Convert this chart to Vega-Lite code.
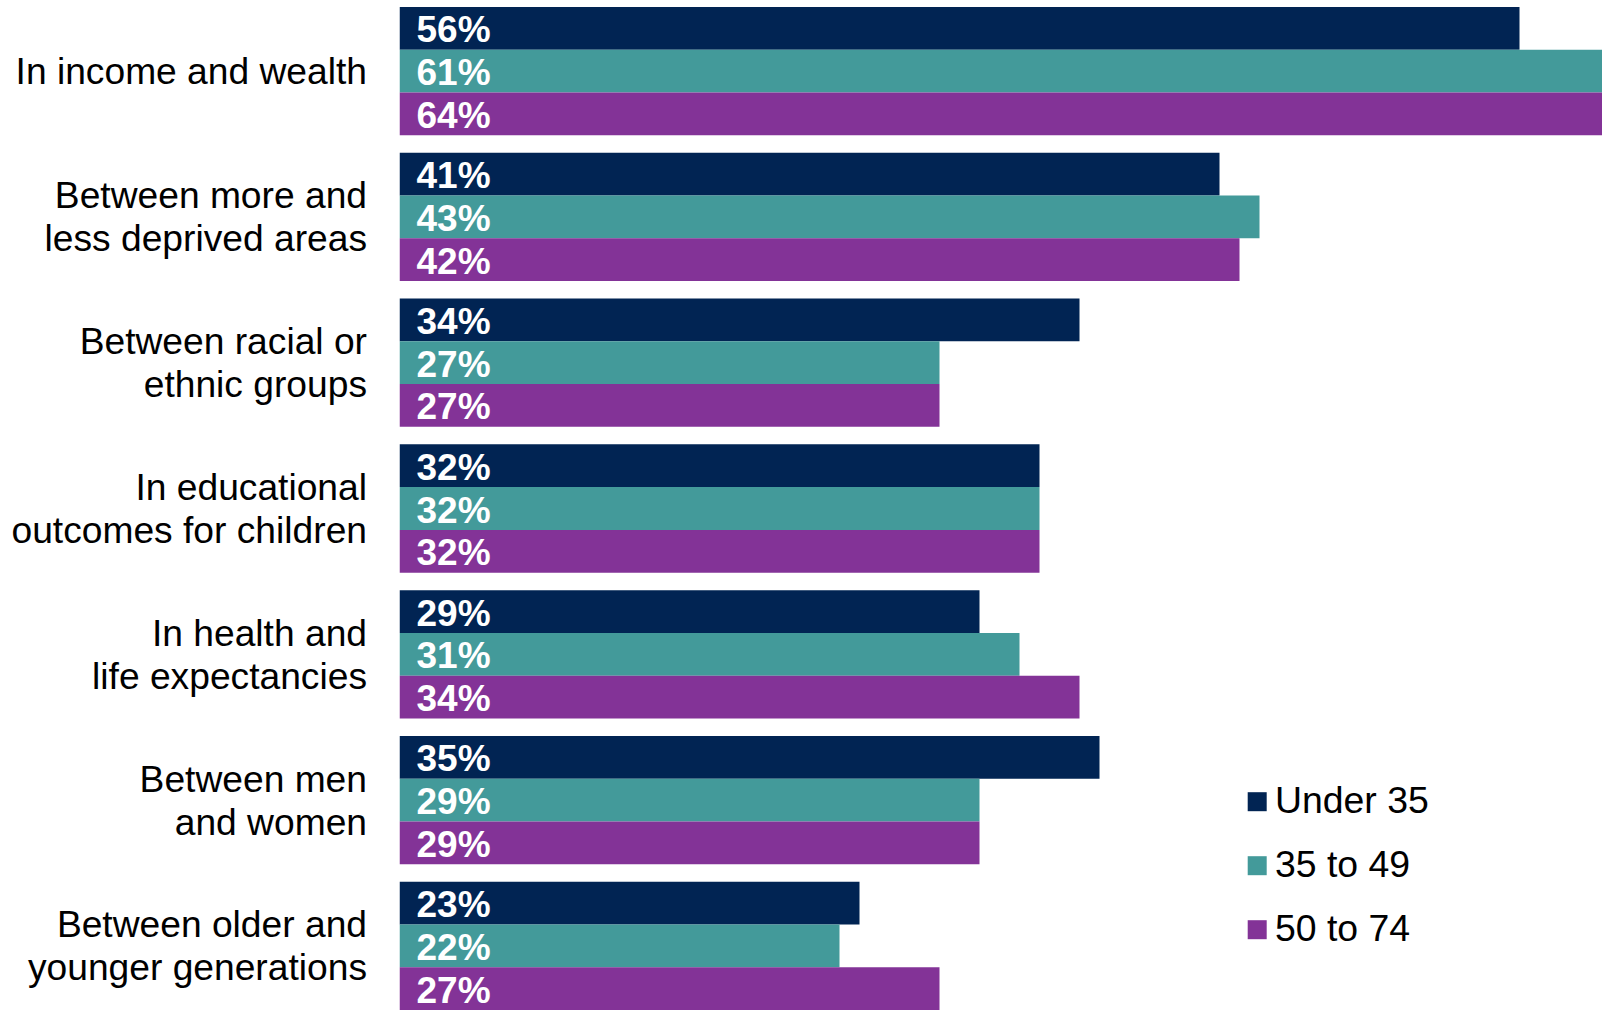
{
  "$schema": "https://vega.github.io/schema/vega-lite/v6.json",
  "width": 1203,
  "height": 1003,
  "autosize": {"type": "none"},
  "padding": {"left": 399.5, "top": 7, "right": 0, "bottom": 7},
  "background": "white",
  "config": {"view": {"stroke": null}, "font": "Liberation Sans"},
  "data": {
    "values": [
      {"category": "In income and wealth", "age": "Under 35", "value": 0.56},
      {"category": "In income and wealth", "age": "35 to 49", "value": 0.61},
      {"category": "In income and wealth", "age": "50 to 74", "value": 0.64},
      {"category": "Between more and|less deprived areas", "age": "Under 35", "value": 0.41},
      {"category": "Between more and|less deprived areas", "age": "35 to 49", "value": 0.43},
      {"category": "Between more and|less deprived areas", "age": "50 to 74", "value": 0.42},
      {"category": "Between racial or|ethnic groups", "age": "Under 35", "value": 0.34},
      {"category": "Between racial or|ethnic groups", "age": "35 to 49", "value": 0.27},
      {"category": "Between racial or|ethnic groups", "age": "50 to 74", "value": 0.27},
      {"category": "In educational|outcomes for children", "age": "Under 35", "value": 0.32},
      {"category": "In educational|outcomes for children", "age": "35 to 49", "value": 0.32},
      {"category": "In educational|outcomes for children", "age": "50 to 74", "value": 0.32},
      {"category": "In health and|life expectancies", "age": "Under 35", "value": 0.29},
      {"category": "In health and|life expectancies", "age": "35 to 49", "value": 0.31},
      {"category": "In health and|life expectancies", "age": "50 to 74", "value": 0.34},
      {"category": "Between men|and women", "age": "Under 35", "value": 0.35},
      {"category": "Between men|and women", "age": "35 to 49", "value": 0.29},
      {"category": "Between men|and women", "age": "50 to 74", "value": 0.29},
      {"category": "Between older and|younger generations", "age": "Under 35", "value": 0.23},
      {"category": "Between older and|younger generations", "age": "35 to 49", "value": 0.22},
      {"category": "Between older and|younger generations", "age": "50 to 74", "value": 0.27}
    ]
  },
  "encoding": {
    "y": {
      "field": "category",
      "type": "nominal",
      "sort": null,
      "scale": {"paddingInner": 0.12, "paddingOuter": 0},
      "axis": {
        "title": null,
        "domain": false,
        "ticks": false,
        "labelExpr": "split(datum.label, '|')",
        "labelFontSize": 37.2,
        "labelColor": "#000000",
        "labelFont": "Liberation Sans",
        "labelLineHeight": 43,
        "labelPadding": 33,
        "labelLimit": 0,
        "labelAlign": "right",
        "labelBaseline": "middle",
        "labelOffset": {"condition": {"test": "indexof(datum.value, '|') >= 0", "value": -19.5}, "value": 2}
      }
    },
    "yOffset": {
      "field": "age",
      "type": "nominal",
      "sort": ["Under 35", "35 to 49", "50 to 74"],
      "scale": {"paddingInner": 0, "paddingOuter": 0}
    }
  },
  "layer": [
    {
      "mark": {"type": "bar", "clip": true},
      "encoding": {
        "x": {
          "field": "value",
          "type": "quantitative",
          "scale": {"domain": [0, 0.6015], "nice": false, "zero": true},
          "axis": null
        },
        "color": {
          "field": "age",
          "type": "nominal",
          "sort": ["Under 35", "35 to 49", "50 to 74"],
          "scale": {
            "domain": ["Under 35", "35 to 49", "50 to 74"],
            "range": ["#012453", "#439A9A", "#833397"]
          },
          "legend": {
            "title": null,
            "orient": "none",
            "legendX": 839,
            "legendY": 776,
            "symbolType": "square",
            "symbolSize": 361,
            "symbolStrokeWidth": 0,
            "labelFontSize": 37.4,
            "labelColor": "#000000",
            "labelFont": "Liberation Sans",
            "labelOffset": -1,
            "rowPadding": 25
          }
        }
      }
    },
    {
      "mark": {
        "type": "text",
        "align": "left",
        "baseline": "middle",
        "dx": 17,
        "dy": 3,
        "fontSize": 37,
        "fontWeight": "bold",
        "color": "white",
        "font": "Liberation Sans"
      },
      "encoding": {
        "x": {"datum": 0, "type": "quantitative"},
        "text": {"field": "value", "type": "quantitative", "format": ".0%"}
      }
    }
  ]
}
